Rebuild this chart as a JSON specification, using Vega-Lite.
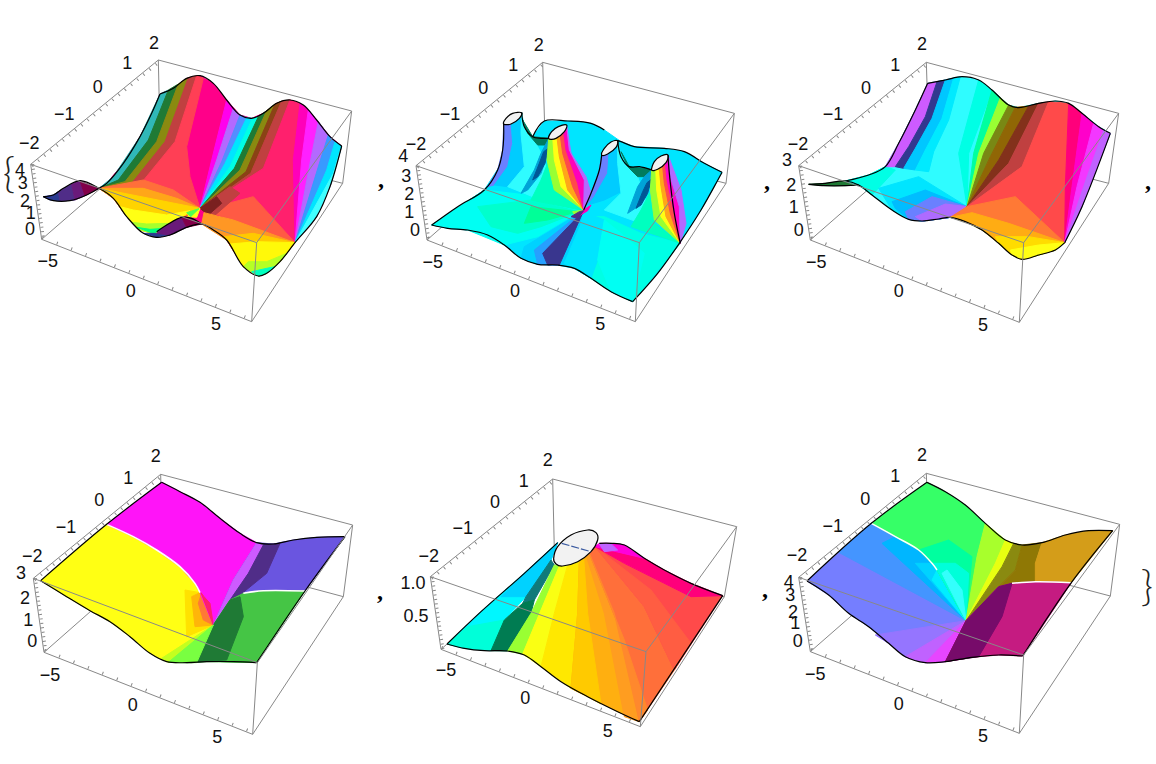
{"$schema":"https://vega.github.io/schema/vega-lite/v6.json","padding":{"left":0,"top":20,"right":0,"bottom":0},"background":"white","config":{"view":{"stroke":null},"font":"Liberation Sans"},
"data":{"values":[
{"p":1,"k":"b","i":1,"x":[92,475,1055,1028,755,125,92],"y":[433,120,273,490,905,658,433]},
{"p":1,"k":"b","i":2,"x":[475,480],"y":[120,350]},
{"p":1,"k":"b","i":3,"x":[125,480,1028],"y":[658,350,490]},
{"p":1,"k":"f","i":4,"x":[92,770,1055],"y":[433,668,273]},
{"p":1,"k":"f","i":5,"x":[770,755],"y":[668,905]},
{"p":1,"k":"tx","i":6,"x":[127,757],"y":[652,899]},
{"p":1,"k":"ty","i":7,"x":[96,479],"y":[438,125]},
{"p":1,"k":"tz","i":8,"x":[98,131],"y":[433,658]},
{"p":1,"k":"s","i":10,"h":335,"x":[480,520,560,600,640,680,720,755,790,830,870,910,950,990,1025,990,950,885,840,800,775,730,680,640,605,560,530,500,460,420,380,340,297,320,370,420,455],"y":[222,205,175,167,190,240,285,295,280,250,240,255,300,350,378,500,590,668,725,760,768,740,660,630,610,592,595,620,640,630,590,535,505,490,430,350,280]},
{"p":1,"k":"s","i":11,"h":1240,"x":[130,160,175,180,150],"y":[530,525,515,543,540]},
{"p":1,"k":"s","i":12,"h":1270,"x":[175,215,225,180],"y":[515,492,540,543]},
{"p":1,"k":"s","i":13,"h":1300,"x":[215,240,255,225],"y":[492,482,527,540]},
{"p":1,"k":"s","i":14,"h":1330,"x":[240,297,255],"y":[482,505,527]},
{"p":1,"k":"s","i":15,"h":2180,"x":[480,420,340,297,355,445,505],"y":[222,350,470,505,480,360,210]},
{"p":1,"k":"s","i":16,"h":1120,"x":[505,445,355,297,375,470,535],"y":[210,360,480,505,485,365,192]},
{"p":1,"k":"s","i":17,"h":1060,"x":[535,470,375,297,395,495,565],"y":[192,365,485,505,490,365,173]},
{"p":1,"k":"s","i":18,"h":2000,"x":[565,495,395,297,415,525,590],"y":[173,365,490,505,500,365,167]},
{"p":1,"k":"s","i":19,"h":355,"x":[590,525,415,297,600,570,560,610],"y":[167,365,500,505,565,470,380,175]},
{"p":1,"k":"s","i":20,"h":12,"x":[297,600,520,430],"y":[505,565,510,480]},
{"p":1,"k":"s","i":21,"h":30,"x":[297,600,530,430],"y":[505,565,535,505]},
{"p":1,"k":"s","i":22,"h":45,"x":[297,340,380,420,460,500,545,600],"y":[505,535,590,630,640,625,592,565]},
{"p":1,"k":"s","i":23,"h":60,"x":[360,400,500,570,545,500,460,420,380],"y":[560,570,585,572,592,625,640,630,590]},
{"p":1,"k":"s","i":24,"h":95,"x":[395,440,510,500,460,420],"y":[607,612,610,625,640,630]},
{"p":1,"k":"s","i":25,"h":130,"x":[410,450,495,460],"y":[622,628,625,640]},
{"p":1,"k":"s","i":26,"h":1240,"x":[430,470,500,510,470],"y":[640,640,640,645,652]},
{"p":1,"k":"s","i":27,"h":1300,"x":[470,500,545,560,510],"y":[640,615,592,622,645]},
{"p":1,"k":"s","i":28,"h":1330,"x":[545,575,605,560],"y":[592,595,612,622]},
{"p":1,"k":"s","i":29,"h":305,"x":[680,640,600,650,700],"y":[240,400,565,420,265]},
{"p":1,"k":"s","i":30,"h":270,"x":[700,650,600,665,720],"y":[265,420,565,425,285]},
{"p":1,"k":"s","i":31,"h":235,"x":[720,665,600,675,740],"y":[285,425,565,430,293]},
{"p":1,"k":"s","i":32,"h":195,"x":[740,675,600,690,757],"y":[293,430,565,440,295]},
{"p":1,"k":"s","i":33,"h":165,"x":[757,690,600,703,775],"y":[295,440,565,445,290]},
{"p":1,"k":"s","i":34,"h":1120,"x":[775,703,600,720,800],"y":[290,445,565,450,272]},
{"p":1,"k":"s","i":35,"h":1060,"x":[800,720,600,738,825],"y":[272,450,565,455,252]},
{"p":1,"k":"s","i":36,"h":1020,"x":[825,738,600,752,845],"y":[252,455,565,460,243]},
{"p":1,"k":"s","i":37,"h":2000,"x":[845,752,605,790,870],"y":[243,460,565,445,240]},
{"p":1,"k":"s","i":38,"h":345,"x":[870,790,605,885,880,900],"y":[240,445,565,668,420,250]},
{"p":1,"k":"s","i":39,"h":320,"x":[900,880,885,905,925],"y":[250,420,668,420,270]},
{"p":1,"k":"s","i":40,"h":300,"x":[925,905,885,930,955],"y":[270,420,668,430,305]},
{"p":1,"k":"s","i":41,"h":270,"x":[955,930,885,955,985],"y":[305,430,668,440,345]},
{"p":1,"k":"s","i":42,"h":230,"x":[985,955,885,980,1005],"y":[345,440,668,450,365]},
{"p":1,"k":"s","i":43,"h":195,"x":[1005,980,885,1000,1025],"y":[365,450,668,460,378]},
{"p":1,"k":"s","i":44,"h":180,"x":[1025,1000,885,950,990],"y":[378,460,668,590,500]},
{"p":1,"k":"s","i":45,"h":5,"x":[610,760,885,700],"y":[570,530,668,600]},
{"p":1,"k":"s","i":46,"h":2000,"x":[600,690,720,640],"y":[565,500,520,590]},
{"p":1,"k":"s","i":47,"h":1000,"x":[600,650,665,625],"y":[565,530,550,585]},
{"p":1,"k":"s","i":48,"h":25,"x":[612,700,885,840,800,775,730,680,605],"y":[578,600,668,725,760,768,740,660,612]},
{"p":1,"k":"s","i":49,"h":42,"x":[670,760,885,690],"y":[650,640,668,672]},
{"p":1,"k":"s","i":50,"h":58,"x":[690,770,885,840,800,775,730],"y":[672,665,668,725,760,768,740]},
{"p":1,"k":"s","i":51,"h":90,"x":[745,800,860,840,800,775,730],"y":[725,725,700,725,760,768,740]},
{"p":1,"k":"s","i":52,"h":150,"x":[755,800,825,800,775],"y":[755,745,740,760,768]},
{"p":1,"k":"s","i":53,"h":60,"x":[600,560,590],"y":[565,590,592]},
{"p":1,"k":"s","i":54,"h":120,"x":[597,560,572],"y":[566,578,590]},
{"p":1,"k":"e","i":60,"x":[480,520,560,600,640,680,720,755,790,830,870,910,950,990,1025],"y":[222,205,175,167,190,240,285,295,280,250,240,255,300,350,378]},
{"p":1,"k":"e","i":64,"x":[1025,990,950,885,840,800,775,730,680,640,605,560,510,470,430,380,340,297,240,190,160,130],"y":[378,500,590,668,725,760,768,740,660,630,612,622,645,652,640,590,535,505,482,505,525,530]},
{"p":1,"k":"e","i":61,"x":[480,455,420,370,320,297],"y":[222,280,350,430,490,505]},
{"p":1,"k":"e","i":62,"x":[130,160,210,260,297],"y":[530,542,542,525,505]},
{"p":1,"k":"e","i":63,"x":[470,500,545,575,605],"y":[635,615,592,595,612]},
{"p":2,"k":"b","i":1,"x":[75,455,1030,1005,733,108,75],"y":[437,127,280,490,905,660,437]},
{"p":2,"k":"b","i":2,"x":[455,462],"y":[127,349]},
{"p":2,"k":"b","i":3,"x":[108,462,1005],"y":[660,349,490]},
{"p":2,"k":"f","i":4,"x":[75,745,1030],"y":[437,668,280]},
{"p":2,"k":"f","i":5,"x":[745,733],"y":[668,905]},
{"p":2,"k":"tx","i":6,"x":[110,735],"y":[654,899]},
{"p":2,"k":"ty","i":7,"x":[79,459],"y":[442,132]},
{"p":2,"k":"tz","i":8,"x":[81,114],"y":[437,660]},
{"p":2,"k":"s","i":10,"h":195,"x":[122,170,230,290,340,390,440,500,550,600,660,725,800,865,930,993,940,880,820,730,690,640,600,530,460,425,338,280],"y":[615,625,630,645,675,715,733,735,745,775,815,845,760,670,570,457,430,395,385,380,365,330,310,303,303,350,420,510]},
{"p":2,"k":"s","i":11,"h":172,"x":[122,280,450,570,440,340,230],"y":[615,510,530,572,650,675,630]},
{"p":2,"k":"s","i":12,"h":155,"x":[260,420,565,450,380,300],"y":[560,540,575,620,640,620]},
{"p":2,"k":"s","i":13,"h":138,"x":[420,560,470,400],"y":[560,575,600,610]},
{"p":2,"k":"s","i":14,"h":205,"x":[575,400,390,440,500,540],"y":[575,680,715,733,735,730]},
{"p":2,"k":"s","i":15,"h":228,"x":[578,430,440,500,520],"y":[572,690,733,735,700]},
{"p":2,"k":"s","i":16,"h":1250,"x":[578,455,470,505],"y":[572,700,735,735]},
{"p":2,"k":"s","i":17,"h":165,"x":[600,640,750,868,725,660,600,550],"y":[590,590,640,670,845,815,775,745]},
{"p":2,"k":"s","i":18,"h":195,"x":[585,640,620,600,550,520],"y":[578,600,720,775,745,730]},
{"p":2,"k":"s","i":46,"h":172,"x":[640,690,760,725,660,620],"y":[600,640,700,845,815,720]},
{"p":2,"k":"s","i":19,"h":240,"x":[338,335,320,290,310,350,365,360],"y":[312,390,450,500,495,440,370,305]},
{"p":2,"k":"s","i":20,"h":208,"x":[360,365,350,310,350,400,390,392],"y":[305,370,440,495,500,440,340,278]},
{"p":2,"k":"s","i":21,"h":182,"x":[392,390,400,350,450,480,450,425,400],"y":[278,340,440,500,540,480,400,350,320]},
{"p":2,"k":"s","i":22,"h":1150,"x":[395,425,472,470,440,410],"y":[300,350,355,375,375,340]},
{"p":2,"k":"s","i":23,"h":2200,"x":[473,470,450,410,390,430,450],"y":[356,400,460,510,520,450,400]},
{"p":2,"k":"s","i":47,"h":1220,"x":[472,462,440,425,445,458],"y":[385,430,470,480,430,395]},
{"p":2,"k":"s","i":24,"h":150,"x":[470,450,420,570,490],"y":[430,480,540,570,510]},
{"p":2,"k":"s","i":25,"h":100,"x":[473,468,490,578,510,490,485],"y":[356,420,510,570,500,420,350]},
{"p":2,"k":"s","i":26,"h":60,"x":[485,490,510,578,530,505,497],"y":[350,420,500,570,510,410,345]},
{"p":2,"k":"s","i":27,"h":30,"x":[497,505,530,578,545,515,507],"y":[345,410,510,570,500,400,340]},
{"p":2,"k":"s","i":28,"h":0,"x":[507,515,545,578,560,525,517],"y":[340,400,500,570,490,390,330]},
{"p":2,"k":"s","i":29,"h":320,"x":[517,525,560,578,580,535,526],"y":[330,390,490,570,480,390,318]},
{"p":2,"k":"s","i":30,"h":270,"x":[527,535,580,578,600,585,540],"y":[318,390,480,570,520,470,400]},
{"p":2,"k":"s","i":31,"h":240,"x":[632,625,600,590,610,650,655],"y":[405,450,520,555,530,460,385]},
{"p":2,"k":"s","i":32,"h":208,"x":[655,650,610,590,640,700,685,680],"y":[385,460,530,555,540,510,420,362]},
{"p":2,"k":"s","i":33,"h":182,"x":[680,680,690,640,750,770,740,715,690],"y":[362,430,520,570,610,560,470,440,410]},
{"p":2,"k":"s","i":34,"h":1150,"x":[690,715,780,775,740,710],"y":[395,440,448,470,470,440]},
{"p":2,"k":"s","i":35,"h":2200,"x":[782,775,740,710,740,760],"y":[450,500,560,580,500,470]},
{"p":2,"k":"s","i":48,"h":1220,"x":[781,770,750,735,755,768],"y":[478,520,555,565,515,488]},
{"p":2,"k":"s","i":36,"h":150,"x":[775,750,720,868,790],"y":[520,570,620,670,610]},
{"p":2,"k":"s","i":37,"h":100,"x":[782,778,790,868,810,797,794],"y":[450,510,600,670,590,510,445]},
{"p":2,"k":"s","i":38,"h":60,"x":[794,797,810,868,825,810,804],"y":[445,510,590,670,590,500,438]},
{"p":2,"k":"s","i":39,"h":30,"x":[804,810,825,868,838,820,814],"y":[438,500,590,670,580,490,430]},
{"p":2,"k":"s","i":40,"h":0,"x":[814,820,838,868,848,828,822],"y":[430,490,580,670,570,480,420]},
{"p":2,"k":"s","i":41,"h":315,"x":[822,828,848,868,865,838,831],"y":[420,480,570,670,560,470,405]},
{"p":2,"k":"s","i":42,"h":270,"x":[831,838,865,868,885,870],"y":[405,470,560,670,610,510]},
{"p":2,"k":"s","i":43,"h":100,"x":[578,555,545],"y":[570,590,575]},
{"p":2,"k":"s","i":44,"h":320,"x":[578,600,590,560],"y":[570,555,572,590]},
{"p":2,"k":"s","i":45,"h":1270,"x":[578,560,540,565],"y":[572,595,590,575]},
{"p":2,"k":"o","i":50,"x":[338,345,365,392,385,360],"y":[312,295,280,278,295,312]},
{"p":2,"k":"o","i":51,"x":[473,482,502,527,520,495],"y":[356,335,320,315,335,355]},
{"p":2,"k":"o","i":52,"x":[632,640,660,680,675,650],"y":[405,385,366,362,382,402]},
{"p":2,"k":"o","i":53,"x":[782,790,810,831,825,800],"y":[450,425,408,405,428,448]},
{"p":2,"k":"e","i":60,"x":[122,170,230,290,340,390,440,500,550,600,660,725],"y":[615,625,630,645,675,715,733,735,745,775,815,845]},
{"p":2,"k":"e","i":67,"x":[725,800,865,930,993],"y":[845,760,670,570,457]},
{"p":2,"k":"e","i":68,"x":[993,940,880,820,730,690,680],"y":[457,430,395,385,380,365,362]},
{"p":2,"k":"e","i":61,"x":[122,200,280,320,335,338],"y":[615,560,510,450,390,312]},
{"p":2,"k":"e","i":62,"x":[392,400,425,450,472],"y":[278,320,350,355,355]},
{"p":2,"k":"e","i":63,"x":[425,460,530,600,640],"y":[350,303,303,310,330]},
{"p":2,"k":"e","i":64,"x":[632,625,600,578],"y":[405,450,520,570]},
{"p":2,"k":"e","i":65,"x":[680,690,715,745,782],"y":[362,410,440,440,450]},
{"p":2,"k":"e","i":66,"x":[831,835,850,868],"y":[405,460,580,670]},
{"p":3,"k":"b","i":1,"x":[50,433,1010,980,712,85,50],"y":[437,127,280,490,907,660,437]},
{"p":3,"k":"b","i":2,"x":[433,440],"y":[127,350]},
{"p":3,"k":"b","i":3,"x":[85,440,980],"y":[660,350,490]},
{"p":3,"k":"f","i":4,"x":[50,725,1010],"y":[437,668,280]},
{"p":3,"k":"f","i":5,"x":[725,712],"y":[668,907]},
{"p":3,"k":"tx","i":6,"x":[87,714],"y":[654,901]},
{"p":3,"k":"ty","i":7,"x":[54,437],"y":[442,132]},
{"p":3,"k":"tz","i":8,"x":[56,91],"y":[437,660]},
{"p":3,"k":"s","i":10,"h":182,"x":[437,490,540,590,630,680,710,770,820,860,900,950,985,900,848,820,770,720,690,650,600,550,505,470,420,380,330,270,230,190,260,310,350,400],"y":[190,180,170,180,210,255,263,250,243,250,280,320,340,560,668,690,705,718,705,670,630,605,592,597,603,598,570,525,495,483,465,440,370,270]},
{"p":3,"k":"s","i":11,"h":1120,"x":[80,130,190,230,190,130],"y":[493,490,483,495,497,497]},
{"p":3,"k":"s","i":12,"h":165,"x":[190,260,310,340,270,230],"y":[483,465,440,450,525,495]},
{"p":3,"k":"s","i":13,"h":280,"x":[437,400,350,310,340,380,430,465],"y":[190,270,370,440,440,380,290,185]},
{"p":3,"k":"s","i":14,"h":1245,"x":[465,430,380,340,365,400,450,490],"y":[185,290,380,440,445,385,295,180]},
{"p":3,"k":"s","i":15,"h":210,"x":[490,450,400,365,400,430,480,515],"y":[180,295,385,445,450,390,295,174]},
{"p":3,"k":"s","i":35,"h":192,"x":[515,480,430,400,440,455,500,535],"y":[174,295,390,450,455,395,300,170]},
{"p":3,"k":"s","i":16,"h":195,"x":[290,410,555,505,470,420,380,330],"y":[505,470,560,592,597,603,598,570]},
{"p":3,"k":"s","i":36,"h":215,"x":[330,430,555,505,470,420,380,340],"y":[545,510,560,592,597,603,598,565]},
{"p":3,"k":"s","i":17,"h":240,"x":[370,450,555,505,470,420,380],"y":[575,530,560,592,597,603,598]},
{"p":3,"k":"s","i":18,"h":268,"x":[400,490,555,505,470,420],"y":[590,552,560,592,597,603]},
{"p":3,"k":"s","i":19,"h":165,"x":[590,530,555,560,630],"y":[180,400,560,400,210]},
{"p":3,"k":"s","i":20,"h":140,"x":[630,575,555,590,655],"y":[210,400,560,400,233]},
{"p":3,"k":"s","i":21,"h":100,"x":[655,590,555,605,680],"y":[233,400,560,400,255]},
{"p":3,"k":"s","i":22,"h":1070,"x":[680,605,555,625,700],"y":[255,400,560,410,262]},
{"p":3,"k":"s","i":23,"h":1040,"x":[700,625,555,650,740],"y":[262,410,560,420,258]},
{"p":3,"k":"s","i":24,"h":1010,"x":[740,650,555,680,770],"y":[258,420,560,430,250]},
{"p":3,"k":"s","i":25,"h":2000,"x":[770,680,555,720,800],"y":[250,430,560,440,245]},
{"p":3,"k":"s","i":26,"h":0,"x":[800,720,555,848,850,860],"y":[245,440,560,668,500,250]},
{"p":3,"k":"s","i":27,"h":340,"x":[860,850,848,870,900],"y":[250,500,668,500,280]},
{"p":3,"k":"s","i":28,"h":315,"x":[900,870,848,885,935],"y":[280,500,668,500,310]},
{"p":3,"k":"s","i":29,"h":295,"x":[935,885,848,905,965],"y":[310,500,668,500,330]},
{"p":3,"k":"s","i":30,"h":275,"x":[965,905,848,900,985],"y":[330,500,668,560,340]},
{"p":3,"k":"s","i":31,"h":15,"x":[555,700,848,690,650,600,550,505],"y":[560,530,668,640,620,600,585,592]},
{"p":3,"k":"s","i":32,"h":32,"x":[505,570,680,848,820,770,720,690,650,600,550],"y":[592,578,610,668,690,705,718,705,670,630,605]},
{"p":3,"k":"s","i":33,"h":48,"x":[640,740,848,820,770,720,690,650],"y":[650,650,668,690,705,718,705,670]},
{"p":3,"k":"s","i":34,"h":60,"x":[685,770,848,820,770,720,690],"y":[690,675,668,690,705,718,705]},
{"p":3,"k":"e","i":60,"x":[80,130,190,230,270,330,380,420,470,505,550,600,650,690,720,770,820,848],"y":[493,490,483,495,525,570,598,603,597,592,605,630,670,705,718,705,690,668]},
{"p":3,"k":"e","i":62,"x":[848,900,985],"y":[668,560,340]},
{"p":3,"k":"e","i":63,"x":[985,950,900,860,820,770,710,680,630,590,540,490,437],"y":[340,320,280,250,243,250,263,255,210,180,170,180,190]},
{"p":3,"k":"e","i":64,"x":[437,400,350,310,260,190],"y":[190,270,370,440,465,483]},
{"p":3,"k":"e","i":61,"x":[80,130,190,230],"y":[493,497,497,495]},
{"p":4,"k":"b","i":1,"x":[100,482,1058,1030,758,132,100],"y":[415,103,255,470,883,637,415]},
{"p":4,"k":"b","i":2,"x":[482,487],"y":[103,325]},
{"p":4,"k":"b","i":3,"x":[132,487,1030],"y":[637,325,470]},
{"p":4,"k":"s","i":10,"h":60,"x":[122,320,400,470,540,585,600,640,520,500,450,390,330,270,200],"y":[422,253,290,330,380,430,458,555,665,665,640,590,545,512,470]},
{"p":4,"k":"s","i":11,"h":50,"x":[640,600,555,560],"y":[555,458,450,590]},
{"p":4,"k":"s","i":12,"h":35,"x":[640,600,575,585],"y":[555,458,470,560]},
{"p":4,"k":"s","i":22,"h":15,"x":[640,605,595,610],"y":[555,458,490,540]},
{"p":4,"k":"s","i":13,"h":302,"x":[320,485,540,600,660,720,770,760,700,640,600,585,540,470,400],"y":[253,127,155,187,235,280,308,330,420,555,458,430,380,330,290]},
{"p":4,"k":"s","i":14,"h":345,"x":[640,603,612,630],"y":[555,458,470,490]},
{"p":4,"k":"s","i":15,"h":2240,"x":[770,820,880,950,1035,915,790,730,690,640,700],"y":[308,312,300,292,290,453,452,460,490,555,420]},
{"p":4,"k":"s","i":16,"h":280,"x":[770,700,640,690,745,790],"y":[308,420,555,480,400,315]},
{"p":4,"k":"s","i":17,"h":1270,"x":[790,745,690,720,800,840],"y":[315,400,480,465,400,310]},
{"p":4,"k":"s","i":18,"h":2120,"x":[640,690,730,790,915,770,620,560,520],"y":[555,480,460,452,453,668,665,668,665]},
{"p":4,"k":"s","i":19,"h":1120,"x":[640,690,720,730,680,560],"y":[555,480,470,530,660,668]},
{"p":4,"k":"s","i":20,"h":85,"x":[640,485,505,530],"y":[555,655,667,668]},
{"p":4,"k":"s","i":21,"h":110,"x":[640,505,530,590],"y":[555,667,668,668]},
{"p":4,"k":"w","i":40,"x":[320,400,470,540,585,600],"y":[253,290,330,380,430,458]},
{"p":4,"k":"w","i":41,"x":[730,790,915],"y":[460,452,453]},
{"p":4,"k":"e","i":60,"x":[485,540,600,660,720,770,820,880,950,1035],"y":[127,155,187,235,280,308,312,300,292,290]},
{"p":4,"k":"e","i":61,"x":[1035,915,770],"y":[290,453,668]},
{"p":4,"k":"e","i":62,"x":[770,700,620,560,500,450,390,330,270,200,122],"y":[668,665,665,668,665,640,590,545,512,470,422]},
{"p":4,"k":"e","i":63,"x":[122,320,485],"y":[422,253,127]},
{"p":4,"k":"f","i":4,"x":[100,772,1058],"y":[415,668,255]},
{"p":4,"k":"f","i":5,"x":[772,758],"y":[668,883]},
{"p":4,"k":"tx","i":6,"x":[134,760],"y":[631,877]},
{"p":4,"k":"ty","i":7,"x":[104,486],"y":[420,108]},
{"p":4,"k":"tz","i":8,"x":[106,138],"y":[415,637]},
{"p":5,"k":"b","i":1,"x":[118,485,1037,1000,748,150,118],"y":[410,117,260,470,860,628,410]},
{"p":5,"k":"b","i":2,"x":[485,490],"y":[117,330]},
{"p":5,"k":"b","i":3,"x":[150,490,1000],"y":[628,330,470]},
{"p":5,"k":"s","i":10,"h":185,"x":[168,270,400,500,480,405,340,300,220],"y":[612,515,400,308,360,470,540,632,625]},
{"p":5,"k":"s","i":11,"h":205,"x":[500,400,330,405,480],"y":[308,400,470,470,360]},
{"p":5,"k":"s","i":12,"h":160,"x":[168,230,340,300,220],"y":[612,560,540,632,625]},
{"p":5,"k":"s","i":13,"h":1180,"x":[480,405,395,430,490],"y":[360,470,490,480,375]},
{"p":5,"k":"s","i":14,"h":1140,"x":[395,340,300,350,420,430],"y":[490,540,632,633,520,480]},
{"p":5,"k":"s","i":15,"h":100,"x":[490,420,350,395,450,505],"y":[375,520,633,642,510,378]},
{"p":5,"k":"s","i":16,"h":62,"x":[505,450,395,450,490,530],"y":[378,510,642,680,520,375]},
{"p":5,"k":"s","i":17,"h":52,"x":[530,490,450,540,560,565],"y":[375,520,680,745,520,362]},
{"p":5,"k":"s","i":18,"h":33,"x":[565,560,540,590,680,745,700,595],"y":[362,520,745,770,815,845,600,340]},
{"p":5,"k":"s","i":24,"h":42,"x":[565,560,540,590,630,590,578],"y":[362,520,745,770,792,520,352]},
{"p":5,"k":"s","i":25,"h":27,"x":[585,640,700,745,700,595],"y":[345,520,830,845,600,340]},
{"p":5,"k":"s","i":19,"h":12,"x":[595,700,745,850,760,612],"y":[340,600,845,690,500,320]},
{"p":5,"k":"s","i":26,"h":20,"x":[595,670,745,770,700],"y":[340,520,845,810,600]},
{"p":5,"k":"s","i":20,"h":0,"x":[612,760,850,995,900,700],"y":[320,500,690,467,470,370]},
{"p":5,"k":"s","i":27,"h":6,"x":[612,760,850,900,780],"y":[320,500,690,610,450]},
{"p":5,"k":"s","i":21,"h":340,"x":[612,700,900,995,900,820,760],"y":[320,370,470,467,430,390,355]},
{"p":5,"k":"s","i":22,"h":310,"x":[612,760,700,660,625],"y":[320,355,315,310,310]},
{"p":5,"k":"s","i":23,"h":275,"x":[625,660,680,640],"y":[312,311,330,335]},
{"p":5,"k":"o","i":50,"x":[488,500,540,590,615,620,600,560,515,495],"y":[355,320,285,270,278,300,335,365,378,372]},
{"p":5,"k":"d","i":51,"x":[512,600],"y":[310,335]},
{"p":5,"k":"e","i":60,"x":[168,220,280,350,400,450,510,590,680,745],"y":[612,625,632,633,645,680,725,770,815,845]},
{"p":5,"k":"e","i":61,"x":[745,995],"y":[845,467]},
{"p":5,"k":"e","i":63,"x":[995,900,820,760,700,660,625],"y":[467,430,390,355,315,310,310]},
{"p":5,"k":"e","i":62,"x":[168,270,400,500],"y":[612,515,400,308]},
{"p":5,"k":"f","i":4,"x":[118,765,1037],"y":[410,635,260]},
{"p":5,"k":"f","i":5,"x":[765,748],"y":[635,860]},
{"p":5,"k":"tx","i":6,"x":[152,750],"y":[622,854]},
{"p":5,"k":"ty","i":7,"x":[122,489],"y":[415,122]},
{"p":5,"k":"tz","i":8,"x":[124,156],"y":[410,628]},
{"p":6,"k":"b","i":1,"x":[50,433,1013,985,712,85,50],"y":[412,100,253,468,880,635,412]},
{"p":6,"k":"b","i":2,"x":[433,440],"y":[100,325]},
{"p":6,"k":"b","i":3,"x":[85,440,985],"y":[635,325,468]},
{"p":6,"k":"s","i":10,"h":245,"x":[75,268,340,410,450,465,552,430,370,320,260,200,140],"y":[423,250,290,330,370,390,542,668,650,610,560,520,465]},
{"p":6,"k":"s","i":11,"h":232,"x":[552,170,268,340,410,450,465],"y":[542,337,250,290,330,370,390]},
{"p":6,"k":"s","i":12,"h":218,"x":[552,300,340,410,450,465],"y":[542,310,290,330,370,390]},
{"p":6,"k":"s","i":13,"h":205,"x":[552,400,450,465],"y":[542,370,370,390]},
{"p":6,"k":"s","i":14,"h":190,"x":[552,450,465,490],"y":[542,420,390,440]},
{"p":6,"k":"s","i":15,"h":258,"x":[552,280,320,370,430],"y":[542,585,610,650,668]},
{"p":6,"k":"s","i":16,"h":275,"x":[552,370,430,490],"y":[542,650,668,665]},
{"p":6,"k":"s","i":17,"h":290,"x":[552,430,490,530],"y":[542,668,665,658]},
{"p":6,"k":"s","i":18,"h":125,"x":[268,435,490,550,610,585,552,465,450,410,340],"y":[250,127,155,195,250,350,542,390,370,330,290]},
{"p":6,"k":"s","i":19,"h":140,"x":[552,465,450,410,500,570],"y":[542,390,370,330,300,350]},
{"p":6,"k":"s","i":20,"h":160,"x":[552,465,450,520,560],"y":[542,390,370,370,400]},
{"p":6,"k":"s","i":21,"h":178,"x":[552,480,495,540],"y":[542,400,390,450]},
{"p":6,"k":"s","i":24,"h":95,"x":[610,670,640,552,585],"y":[250,300,370,542,350]},
{"p":6,"k":"s","i":25,"h":70,"x":[670,695,660,552,640],"y":[300,310,380,542,370]},
{"p":6,"k":"s","i":26,"h":1060,"x":[695,720,700,650,552,660],"y":[310,315,390,440,542,380]},
{"p":6,"k":"s","i":27,"h":1050,"x":[720,780,760,760,690,650,700],"y":[315,308,370,425,430,440,390]},
{"p":6,"k":"s","i":28,"h":2050,"x":[780,850,920,992,868,760,760],"y":[308,285,272,272,428,425,370]},
{"p":6,"k":"s","i":29,"h":2310,"x":[552,650,690,760,868,722,650,570,490],"y":[542,440,430,425,428,648,645,652,665]},
{"p":6,"k":"s","i":30,"h":1310,"x":[552,650,690,660,590,490],"y":[542,440,430,530,650,665]},
{"p":6,"k":"w","i":40,"x":[268,340,410,450,465],"y":[250,290,330,370,390]},
{"p":6,"k":"w","i":41,"x":[690,760,868],"y":[430,425,428]},
{"p":6,"k":"e","i":60,"x":[435,490,550,610,670,720,780,850,920,992],"y":[127,155,195,250,300,315,308,285,272,272]},
{"p":6,"k":"e","i":61,"x":[992,868,722],"y":[272,428,648]},
{"p":6,"k":"e","i":62,"x":[722,650,570,490,430,370,320,260,200,140,75],"y":[648,645,652,665,668,650,610,560,520,465,423]},
{"p":6,"k":"e","i":63,"x":[75,268,435],"y":[423,250,127]},
{"p":6,"k":"f","i":4,"x":[50,725,1013],"y":[412,645,253]},
{"p":6,"k":"f","i":5,"x":[725,712],"y":[645,880]},
{"p":6,"k":"tx","i":6,"x":[87,714],"y":[629,874]},
{"p":6,"k":"ty","i":7,"x":[54,437],"y":[417,105]},
{"p":6,"k":"tz","i":8,"x":[56,91],"y":[412,635]},
{"p":1,"k":"t","t":"−5","x":143,"y":725},{"p":1,"k":"t","t":"0","x":392,"y":815},{"p":1,"k":"t","t":"5","x":648,"y":915},{"p":1,"k":"t","t":"−2","x":88,"y":372},{"p":1,"k":"t","t":"−1","x":193,"y":285},{"p":1,"k":"t","t":"0","x":293,"y":203},{"p":1,"k":"t","t":"1","x":382,"y":133},{"p":1,"k":"t","t":"2","x":462,"y":72},{"p":1,"k":"t","t":"4","x":60,"y":452},{"p":1,"k":"t","t":"3","x":68,"y":492},{"p":1,"k":"t","t":"2","x":75,"y":545},{"p":1,"k":"t","t":"1","x":92,"y":583},{"p":1,"k":"t","t":"0","x":90,"y":630},
{"p":2,"k":"t","t":"−5","x":125,"y":728},{"p":2,"k":"t","t":"0","x":372,"y":815},{"p":2,"k":"t","t":"5","x":628,"y":915},{"p":2,"k":"t","t":"−2","x":75,"y":375},{"p":2,"k":"t","t":"−1","x":177,"y":285},{"p":2,"k":"t","t":"0","x":277,"y":208},{"p":2,"k":"t","t":"1","x":367,"y":138},{"p":2,"k":"t","t":"2","x":443,"y":77},{"p":2,"k":"t","t":"4","x":37,"y":412},{"p":2,"k":"t","t":"3","x":46,"y":470},{"p":2,"k":"t","t":"2","x":55,"y":525},{"p":2,"k":"t","t":"1","x":55,"y":578},{"p":2,"k":"t","t":"0","x":72,"y":632},
{"p":3,"k":"t","t":"−5","x":103,"y":728},{"p":3,"k":"t","t":"0","x":350,"y":817},{"p":3,"k":"t","t":"5","x":603,"y":917},{"p":3,"k":"t","t":"−2","x":48,"y":375},{"p":3,"k":"t","t":"−1","x":153,"y":285},{"p":3,"k":"t","t":"0","x":252,"y":208},{"p":3,"k":"t","t":"1","x":340,"y":138},{"p":3,"k":"t","t":"2","x":420,"y":75},{"p":3,"k":"t","t":"3","x":15,"y":422},{"p":3,"k":"t","t":"2","x":28,"y":497},{"p":3,"k":"t","t":"1","x":35,"y":565},{"p":3,"k":"t","t":"0","x":50,"y":632},
{"p":4,"k":"t","t":"−5","x":150,"y":707},{"p":4,"k":"t","t":"0","x":398,"y":797},{"p":4,"k":"t","t":"5","x":652,"y":893},{"p":4,"k":"t","t":"−2","x":97,"y":352},{"p":4,"k":"t","t":"−1","x":198,"y":265},{"p":4,"k":"t","t":"0","x":298,"y":183},{"p":4,"k":"t","t":"1","x":385,"y":118},{"p":4,"k":"t","t":"2","x":467,"y":52},{"p":4,"k":"t","t":"3","x":63,"y":403},{"p":4,"k":"t","t":"2","x":75,"y":478},{"p":4,"k":"t","t":"1","x":85,"y":542},{"p":4,"k":"t","t":"0","x":97,"y":605},
{"p":5,"k":"t","t":"−5","x":165,"y":692},{"p":5,"k":"t","t":"0","x":403,"y":778},{"p":5,"k":"t","t":"5","x":650,"y":875},{"p":5,"k":"t","t":"−2","x":113,"y":350},{"p":5,"k":"t","t":"−1","x":215,"y":267},{"p":5,"k":"t","t":"0","x":312,"y":190},{"p":5,"k":"t","t":"1","x":398,"y":125},{"p":5,"k":"t","t":"2","x":470,"y":62},{"p":5,"k":"t","t":"1.0","x":66,"y":432},{"p":5,"k":"t","t":"0.5","x":75,"y":530},
{"p":6,"k":"t","t":"−5","x":100,"y":705},{"p":6,"k":"t","t":"0","x":350,"y":795},{"p":6,"k":"t","t":"5","x":603,"y":890},{"p":6,"k":"t","t":"−2","x":45,"y":348},{"p":6,"k":"t","t":"−1","x":152,"y":260},{"p":6,"k":"t","t":"0","x":250,"y":180},{"p":6,"k":"t","t":"1","x":340,"y":110},{"p":6,"k":"t","t":"2","x":420,"y":47},{"p":6,"k":"t","t":"4","x":20,"y":428},{"p":6,"k":"t","t":"3","x":25,"y":468},{"p":6,"k":"t","t":"2","x":33,"y":518},{"p":6,"k":"t","t":"1","x":40,"y":552},{"p":6,"k":"t","t":"0","x":47,"y":605},
{"p":1,"k":"c","t":",","x":1143,"y":480},{"p":2,"k":"c","t":",","x":1128,"y":486},{"p":3,"k":"c","t":",","x":1098,"y":485},{"p":4,"k":"c","t":",","x":1140,"y":456},{"p":5,"k":"c","t":",","x":1122,"y":450},
{"p":1,"k":"r","t":"{","x":27,"y":465},{"p":6,"k":"r","t":"}","x":1095,"y":443}
]},
"transform":[{"calculate":"datum.p>3?2:1","as":"row"},{"calculate":"(datum.p-1)%3","as":"col"}],
"facet":{"column":{"field":"col","type":"ordinal","header":null},"row":{"field":"row","type":"ordinal","header":null}},"spacing":{"row":100,"column":0},
"spec":{"width":390,"height":320,
"encoding":{"x":{"field":"x","type":"quantitative","scale":{"domain":[0,1170],"nice":false,"zero":false},"axis":null},"y":{"field":"y","type":"quantitative","scale":{"domain":[960,0],"nice":false,"zero":false},"axis":null}},
"layer":[
{"transform":[{"filter":"datum.k==='b'"},{"flatten":["x","y"]}],"mark":{"type":"line","stroke":"#888888","strokeWidth":1},"encoding":{"detail":{"field":"i"},"order":{"value":null}}},
{"transform":[{"filter":"datum.k==='s'"},{"flatten":["x","y"]}],"mark":{"type":"line","interpolate":"linear-closed","strokeWidth":1},"encoding":{"detail":{"field":"i"},"order":{"value":null},
"fill":{"field":"h","type":"quantitative","legend":null,"scale":{"domain":[0,60,120,180,240,300,360,1000,1060,1120,1180,1240,1300,1360,2000,2060,2120,2180,2240,2300,2360],"range":["#ff4a4a","#ffff14","#50ff50","#40ffff","#6a80ff","#ff20ff","#ff4a4a","#7a2020","#8a8a10","#1f7a35","#107a7a","#2a3a90","#6a1a7a","#7a2020","#c04040","#d0b018","#45c545","#30b8b8","#6a55e0","#c01e90","#c04040"]}},
"stroke":{"field":"h","type":"quantitative","legend":null,"scale":{"domain":[0,60,120,180,240,300,360,1000,1060,1120,1180,1240,1300,1360,2000,2060,2120,2180,2240,2300,2360],"range":["#ff4a4a","#ffff14","#50ff50","#40ffff","#6a80ff","#ff20ff","#ff4a4a","#7a2020","#8a8a10","#1f7a35","#107a7a","#2a3a90","#6a1a7a","#7a2020","#c04040","#d0b018","#45c545","#30b8b8","#6a55e0","#c01e90","#c04040"]}}}},
{"transform":[{"filter":"datum.k==='o'"},{"flatten":["x","y"]}],"mark":{"type":"line","interpolate":"cardinal-closed","fill":"#f2f2f2","stroke":"black","strokeWidth":1.2},"encoding":{"detail":{"field":"i"},"order":{"value":null}}},
{"transform":[{"filter":"datum.k==='d'"},{"flatten":["x","y"]}],"mark":{"type":"line","stroke":"#3a5aa0","strokeWidth":1.2,"strokeDash":[8,2]},"encoding":{"detail":{"field":"i"},"order":{"value":null}}},
{"transform":[{"filter":"datum.k==='w'"},{"flatten":["x","y"]}],"mark":{"type":"line","stroke":"white","strokeWidth":1.5,"interpolate":"catmull-rom"},"encoding":{"detail":{"field":"i"},"order":{"value":null}}},
{"transform":[{"filter":"datum.k==='e'"},{"flatten":["x","y"]}],"mark":{"type":"line","stroke":"black","strokeWidth":1.2,"interpolate":"catmull-rom"},"encoding":{"detail":{"field":"i"},"order":{"value":null}}},
{"transform":[{"filter":"datum.k==='f'"},{"flatten":["x","y"]}],"mark":{"type":"line","stroke":"#888888","strokeWidth":1},"encoding":{"detail":{"field":"i"},"order":{"value":null}}},
{"transform":[{"filter":"datum.k==='tx'"},{"flatten":["x","y"]}],"mark":{"type":"line","stroke":"#888888","strokeWidth":3,"strokeDash":[1,14.5]},"encoding":{"detail":{"field":"i"},"order":{"value":null}}},
{"transform":[{"filter":"datum.k==='ty'"},{"flatten":["x","y"]}],"mark":{"type":"line","stroke":"#888888","strokeWidth":3,"strokeDash":[1,7]},"encoding":{"detail":{"field":"i"},"order":{"value":null}}},
{"transform":[{"filter":"datum.k==='tz'"},{"flatten":["x","y"]}],"mark":{"type":"line","stroke":"#888888","strokeWidth":3,"strokeDash":[1,3.5]},"encoding":{"detail":{"field":"i"},"order":{"value":null}}},
{"transform":[{"filter":"datum.k==='t'"}],"mark":{"type":"text","fontSize":18,"font":"Liberation Sans","color":"#111111","align":"center","baseline":"middle"},"encoding":{"text":{"field":"t"}}},
{"transform":[{"filter":"datum.k==='c'"}],"mark":{"type":"text","fontSize":24,"font":"Liberation Serif","fontWeight":"bold","color":"black","align":"center","baseline":"middle"},"encoding":{"text":{"field":"t"}}},
{"transform":[{"filter":"datum.k==='r'"}],"mark":{"type":"text","fontSize":42,"font":"Lato","fontWeight":300,"color":"#222222","align":"center","baseline":"middle"},"encoding":{"text":{"field":"t"}}}
]}}
